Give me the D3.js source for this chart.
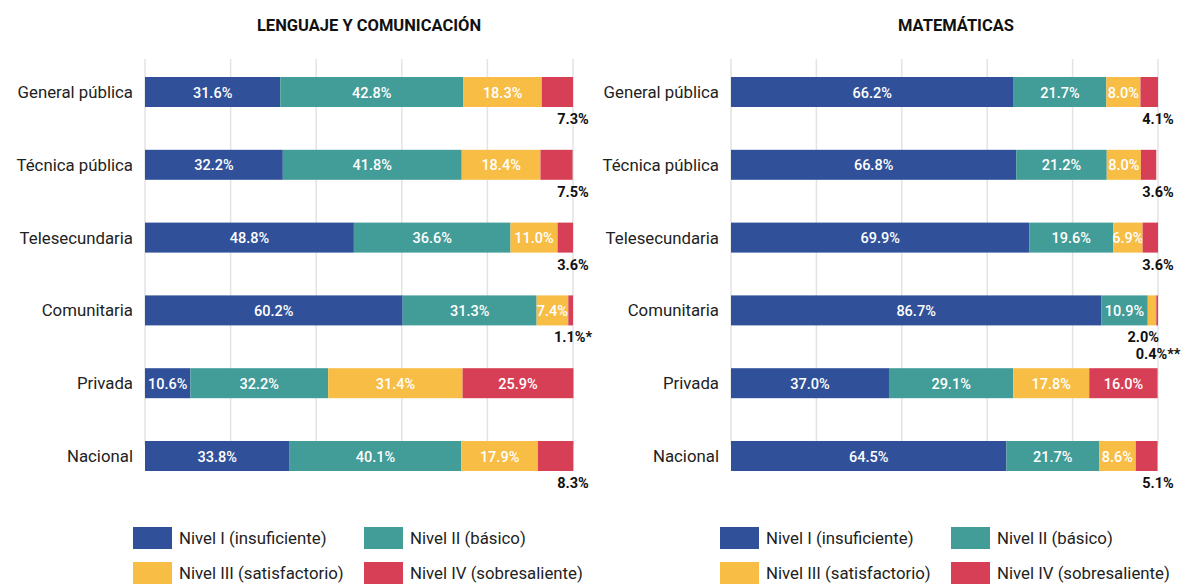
<!DOCTYPE html>
<html><head><meta charset="utf-8">
<script src="https://cdn.jsdelivr.net/npm/d3@7"></script>
<style>
body{margin:0;background:#fff;}
svg text{font-family:Roboto,"Noto Sans",sans-serif;}
</style></head>
<body><svg id="c" width="1182" height="585"></svg>
<script>
const categories = ["General pública","Técnica pública","Telesecundaria","Comunitaria","Privada","Nacional"];
const levels = ["Nivel I (insuficiente)","Nivel II (básico)","Nivel III (satisfactorio)","Nivel IV (sobresaliente)"];
const colors = ["#30519a","#429c98","#f7bd45","#d63f55"];
// Lenguaje y Comunicación
const lenguajeI   = [31.6,32.2,48.8,60.2,10.6,33.8];
const lenguajeII  = [42.8,41.8,36.6,31.3,32.2,40.1];
const lenguajeIII = [18.3,18.4,11.0,7.4,31.4,17.9];
const lenguajeIV  = [7.3,7.5,3.6,1.1,25.9,8.3];
const lenguajeNotes = ["","","","*","",""];
// Matemáticas
const mateI   = [66.2,66.8,69.9,86.7,37.0,64.5];
const mateII  = [21.7,21.2,19.6,10.9,29.1,21.7];
const mateIII = [8.0,8.0,6.9,2.0,17.8,8.6];
const mateIV  = [4.1,3.6,3.6,0.4,16.0,5.1];
const mateNotes = ["","","","**","",""];
const xTicks = [0,20,40,60,80,100];

const svg = d3.select("#c");

function panel(cfg){
  const g = svg.append("g");
  const x = d3.scaleLinear().domain([0,100]).range([cfg.x0,cfg.x1]);
  const y = d3.scaleBand().domain(categories).range([55.6,492.4]).paddingInner(0.588).paddingOuter(0.294);
  // gridlines
  g.selectAll("line.grid").data(xTicks).join("line")
    .attr("x1",d=>x(d)).attr("x2",d=>x(d)).attr("y1",59).attr("y2",y(categories[5])+4)
    .attr("stroke","#e3e3e3").attr("stroke-width",1.5);
  // title
  g.append("text").attr("x",cfg.tx).attr("y",31).attr("text-anchor","middle")
    .attr("font-size",16.5).attr("font-weight","bold").attr("fill","#111").text(cfg.title);
  // category labels
  g.selectAll("text.cat").data(categories).join("text")
    .attr("x",cfg.x0-12).attr("y",d=>y(d)+y.bandwidth()/2+6).attr("text-anchor","end")
    .attr("font-size",16.8).attr("fill","#222").text(d=>d);
  const series = cfg.series;
  categories.forEach((cat,i)=>{
    let acc = 0;
    let below = 0;
    series.forEach((s,k)=>{
      const v = s[i];
      const xs = x(acc), xe = x(acc+v);
      g.append("rect").attr("x",xs).attr("y",y(cat)).attr("width",Math.max(0,xe-xs)).attr("height",y.bandwidth())
        .attr("fill",colors[k]);
      const lbl = v.toFixed(1)+"%";
      const outside = (k===3 && v<10) || v<3;
      if(!outside){
        g.append("text").attr("x",(xs+xe)/2).attr("y",y(cat)+y.bandwidth()/2+5.5)
          .attr("text-anchor","middle").attr("font-size",14.5).attr("font-weight",500).attr("fill","#fff").text(lbl);
      } else {
        const isLast = k===3;
        const txt = lbl + (isLast ? cfg.notes[i] : "");
        const twoOut = series[2][i]<3;
        let anchor = "middle", tx = x(100);
        if(!isLast && twoOut){ anchor="end"; tx = x(100)+1; }
        g.append("text").attr("x",tx).attr("y",y(cat)+y.bandwidth()+17+below*17)
          .attr("text-anchor",anchor).attr("font-size",14.5).attr("font-weight","bold").attr("fill","#111").text(txt);
        below++;
      }
      acc += v;
    });
  });
  // legend
  const lg = g.append("g");
  levels.forEach((l,k)=>{
    const col = k%2, row = Math.floor(k/2);
    const lx = cfg.lx + col*cfg.lcol, ly = 527 + row*35;
    lg.append("rect").attr("x",lx).attr("y",ly).attr("width",39).attr("height",22).attr("fill",colors[k]);
    lg.append("text").attr("x",lx+46).attr("y",ly+17).attr("font-size",16.8).attr("fill","#222").text(l);
  });
}

panel({x0:145,x1:573,tx:369,title:"LENGUAJE Y COMUNICACIÓN",
  series:[lenguajeI,lenguajeII,lenguajeIII,lenguajeIV],notes:lenguajeNotes,lx:133,lcol:231});
panel({x0:731,x1:1158,tx:956,title:"MATEMÁTICAS",
  series:[mateI,mateII,mateIII,mateIV],notes:mateNotes,lx:720,lcol:231});
</script></body></html>
